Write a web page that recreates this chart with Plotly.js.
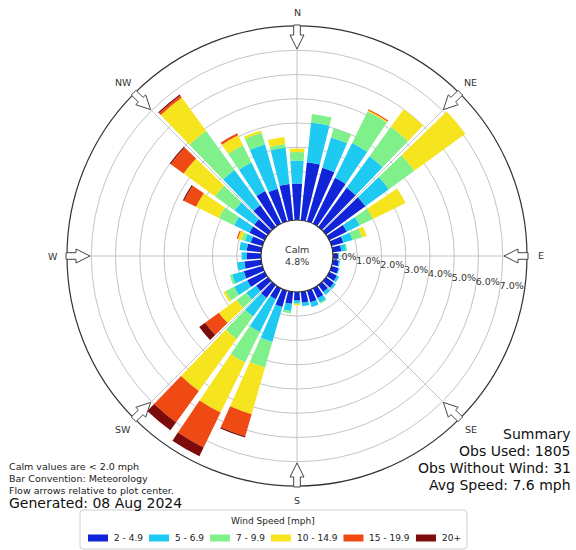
<!DOCTYPE html>
<html><head><meta charset="utf-8">
<script src="https://cdn.plot.ly/plotly-3.0.1.min.js"></script>
<style>html,body{margin:0;padding:0;background:#fff}#chart{width:576px;height:550px}</style>
</head><body><div id="chart"></div>
<script>
// ---- data ----
const directions = [0,10,20,30,40,50,60,70,80,90,100,110,120,130,140,150,160,170,180,190,200,210,220,230,240,250,260,270,280,290,300,310,320,330,340,350];
const speedBins = ['2 - 4.9','5 - 6.9','7 - 9.9','10 - 14.9','15 - 19.9','20+'];
const binColors = ['#1024d8','#1ecaf2','#80f08a','#f6e41e','#f04a14','#7c0c0c'];
// percent frequency per direction for each speed bin
const s2_5   = [1.5,2.4,2.3,2.1,2.0,2.0,0.8,0.5,0.35,0.2,0.25,0.3,0.35,0.4,0.35,0.45,0.5,0.45,0.35,0.5,0.7,0.5,0.65,0.6,0.8,0.8,0.7,0.6,0.6,0.5,0.7,0.7,1.1,1.5,1.4,1.5];
const s5_7   = [0.95,1.65,1.3,1.6,1.6,1.2,0.6,0.4,0.2,0.05,0.05,0.05,0.1,0.1,0.15,0.2,0.2,0.15,0.1,0.3,1.5,1.5,0.95,0.5,0.6,0.5,0.3,0.2,0.3,0.25,0.7,1.0,1.8,1.3,1.9,1.5];
const s7_10  = [0.35,0.35,0.4,1.45,1.5,1.3,0.6,0.4,0.05,0,0,0,0,0,0,0.05,0,0,0.05,0.1,1.1,1.4,1.15,0.5,0.4,0.1,0,0,0,0.15,0.7,1.0,2.0,0.8,0.5,0.15];
const s10_15 = [0.15,0,0,0.05,0.9,2.6,1.5,0.2,0,0,0,0,0,0,0,0,0,0,0.05,0,2.0,2.3,2.65,0.9,0.1,0,0,0,0,0.15,1.05,1.6,1.7,0.45,0.1,0.3];
const s15_20 = [0,0,0,0.05,0,0,0,0,0,0,0,0,0,0,0,0,0,0,0,0,0.95,1.6,1.6,0.7,0,0,0,0,0,0.05,0.55,0.65,0.1,0.1,0,0];
const s20p   = [0,0,0,0,0,0,0,0,0,0,0,0,0,0,0,0,0,0,0,0,0.05,0.4,0.4,0.3,0,0,0,0,0,0,0.05,0.05,0.05,0,0,0];
const series = [s2_5, s5_7, s7_10, s10_15, s15_20, s20p];
const radialTicks = [0,1,2,3,4,5,6,7];
const radialTickText = ['0.0%','1.0%','2.0%','3.0%','4.0%','5.0%','6.0%','7.0%'];
const radialLabelBearing = 100;   // compass bearing along which the % labels are written
const compassAngles = [0,45,90,135,180,225,270,315];
const compassNames = ['N','NE','E','SE','S','SW','W','NW'];
const calmText = 'Calm<br>4.8%';
const legendTitle = 'Wind Speed [mph]';
const notes = ['Calm values are < 2.0 mph','Bar Convention: Meteorology','Flow arrows relative to plot center.'];
const generated = 'Generated: 08 Aug 2024';
const summary = ['Summary','Obs Used: 1805','Obs Without Wind: 31','Avg Speed: 7.6 mph'];

// ---- geometry ----
const W = 576, H = 550;
const CX = 297, CY = 256, R = 230;
const px = x => x / W, py = y => 1 - y / H;
const font = 'DejaVu Sans, Verdana, sans-serif';

const traces = speedBins.map((name, i) => ({
  type: 'barpolar', name: name, r: series[i], theta: directions, showlegend: false,
  width: 8.0, marker: {color: binColors[i], line: {width: 0}}, hoverinfo: 'skip'
}));
// percentage ring labels, placed with the polar axis scales
traces.push({
  type: 'scatterpolar', mode: 'text', r: radialTicks, theta: radialTicks.map(() => radialLabelBearing),
  text: radialTickText, textposition: 'top right', cliponaxis: false, showlegend: false, hoverinfo: 'skip',
  textfont: {family: font, size: 9.5, color: '#333'}
});

const annotations = [];
const shapes = [];

compassAngles.forEach((a, i) => {
  const rad = a * Math.PI / 180;
  const ux = Math.sin(rad), uy = -Math.cos(rad);
  const lr = (a % 90 === 0) ? 244 : 246;
  annotations.push({xref:'paper', yref:'paper', x: px(CX + ux*lr), y: py(CY + uy*lr),
    text: compassNames[i], showarrow:false, xanchor:'center', yanchor:'middle',
    font:{family:font, size:9.5, color:'#333'}});
  const pts = [[231,-3.3],[221,-3.3],[221,-7],[207,0],[221,7],[221,3.3],[231,3.3]];
  const vx = -uy, vy = ux;
  const d = pts.map((p, k) => {
    const X = CX + ux*p[0] + vx*p[1], Y = CY + uy*p[0] + vy*p[1];
    return (k ? 'L' : 'M') + px(X).toFixed(5) + ',' + py(Y).toFixed(5);
  }).join(' ') + ' Z';
  shapes.push({type:'path', xref:'paper', yref:'paper', path:d, fillcolor:'#fff', line:{color:'#444', width:1}, layer:'above'});
});

annotations.push({xref:'paper', yref:'paper', x:px(CX), y:py(CY-1), text:calmText, showarrow:false,
  xanchor:'center', yanchor:'middle', font:{family:font, size:9.5, color:'#333'}});

notes.forEach((t, i) => annotations.push({xref:'paper', yref:'paper', x:px(7), y:py(466 + i*12), text:t,
  showarrow:false, xanchor:'left', yanchor:'middle', font:{family:font, size:9.5, color:'#222'}}));
annotations.push({xref:'paper', yref:'paper', x:px(7), y:py(503), text:generated, showarrow:false,
  xanchor:'left', yanchor:'middle', font:{family:font, size:14, color:'#111'}});
summary.forEach((t, i) => annotations.push({xref:'paper', yref:'paper', x:px(573), y:py(434 + i*17), text:t,
  showarrow:false, xanchor:'right', yanchor:'middle', font:{family:font, size:14, color:'#111'}}));

// ---- legend (matplotlib style: wide swatches in a rounded box) ----
const ctx = document.createElement('canvas').getContext('2d');
ctx.font = '9px "DejaVu Sans"';
let lx = 88; const ly = 538;
speedBins.forEach((name, i) => {
  shapes.push({type:'rect', xref:'paper', yref:'paper', x0:px(lx), x1:px(lx+20), y0:py(ly+3.5), y1:py(ly-3.5),
    fillcolor:binColors[i], line:{width:0}});
  annotations.push({xref:'paper', yref:'paper', x:px(lx+24), y:py(ly), text:name, showarrow:false,
    xanchor:'left', yanchor:'middle', font:{family:font, size:9, color:'#222'}});
  lx += 24 + ctx.measureText(name).width + 8;
});
const bx0 = 80, bx1 = lx - 8 + 8, by0 = 510, by1 = 549, rr = 3;
const boxPath = `M${px(bx0+rr)},${py(by0)} L${px(bx1-rr)},${py(by0)} Q${px(bx1)},${py(by0)} ${px(bx1)},${py(by0+rr)} ` +
  `L${px(bx1)},${py(by1-rr)} Q${px(bx1)},${py(by1)} ${px(bx1-rr)},${py(by1)} L${px(bx0+rr)},${py(by1)} ` +
  `Q${px(bx0)},${py(by1)} ${px(bx0)},${py(by1-rr)} L${px(bx0)},${py(by0+rr)} Q${px(bx0)},${py(by0)} ${px(bx0+rr)},${py(by0)} Z`;
shapes.unshift({type:'path', xref:'paper', yref:'paper', path:boxPath, fillcolor:'#fff', line:{color:'#d0d0d0', width:1}, layer:'above'});
annotations.push({xref:'paper', yref:'paper', x:px((bx0+bx1)/2), y:py(521), text:legendTitle, showarrow:false,
  xanchor:'center', yanchor:'middle', font:{family:font, size:9, color:'#222'}});

const layout = {
  width: W, height: H, margin:{l:0, r:0, t:0, b:0},
  paper_bgcolor:'#fff', font:{family:font, color:'#333'},
  showlegend: false,
  polar: {
    domain: {x:[px(CX-R), px(CX+R)], y:[py(CY+R), py(CY-R)]},
    hole: 36 / R, bgcolor:'#fff', barmode:'stack',
    radialaxis: {range:[0,8], tickvals: radialTicks, showticklabels:false, angle:-10,
      showline:false, ticks:'', gridcolor:'#c4c4c4', gridwidth:1},
    angularaxis: {rotation:90, direction:'clockwise', tickvals: compassAngles, showticklabels:false, ticks:'',
      showline:true, linecolor:'#333', linewidth:1.2, gridcolor:'#c4c4c4', gridwidth:1}
  },
  annotations: annotations, shapes: shapes
};

Plotly.newPlot('chart', traces, layout, {displayModeBar:false, staticPlot:true});
</script>
</body></html>
